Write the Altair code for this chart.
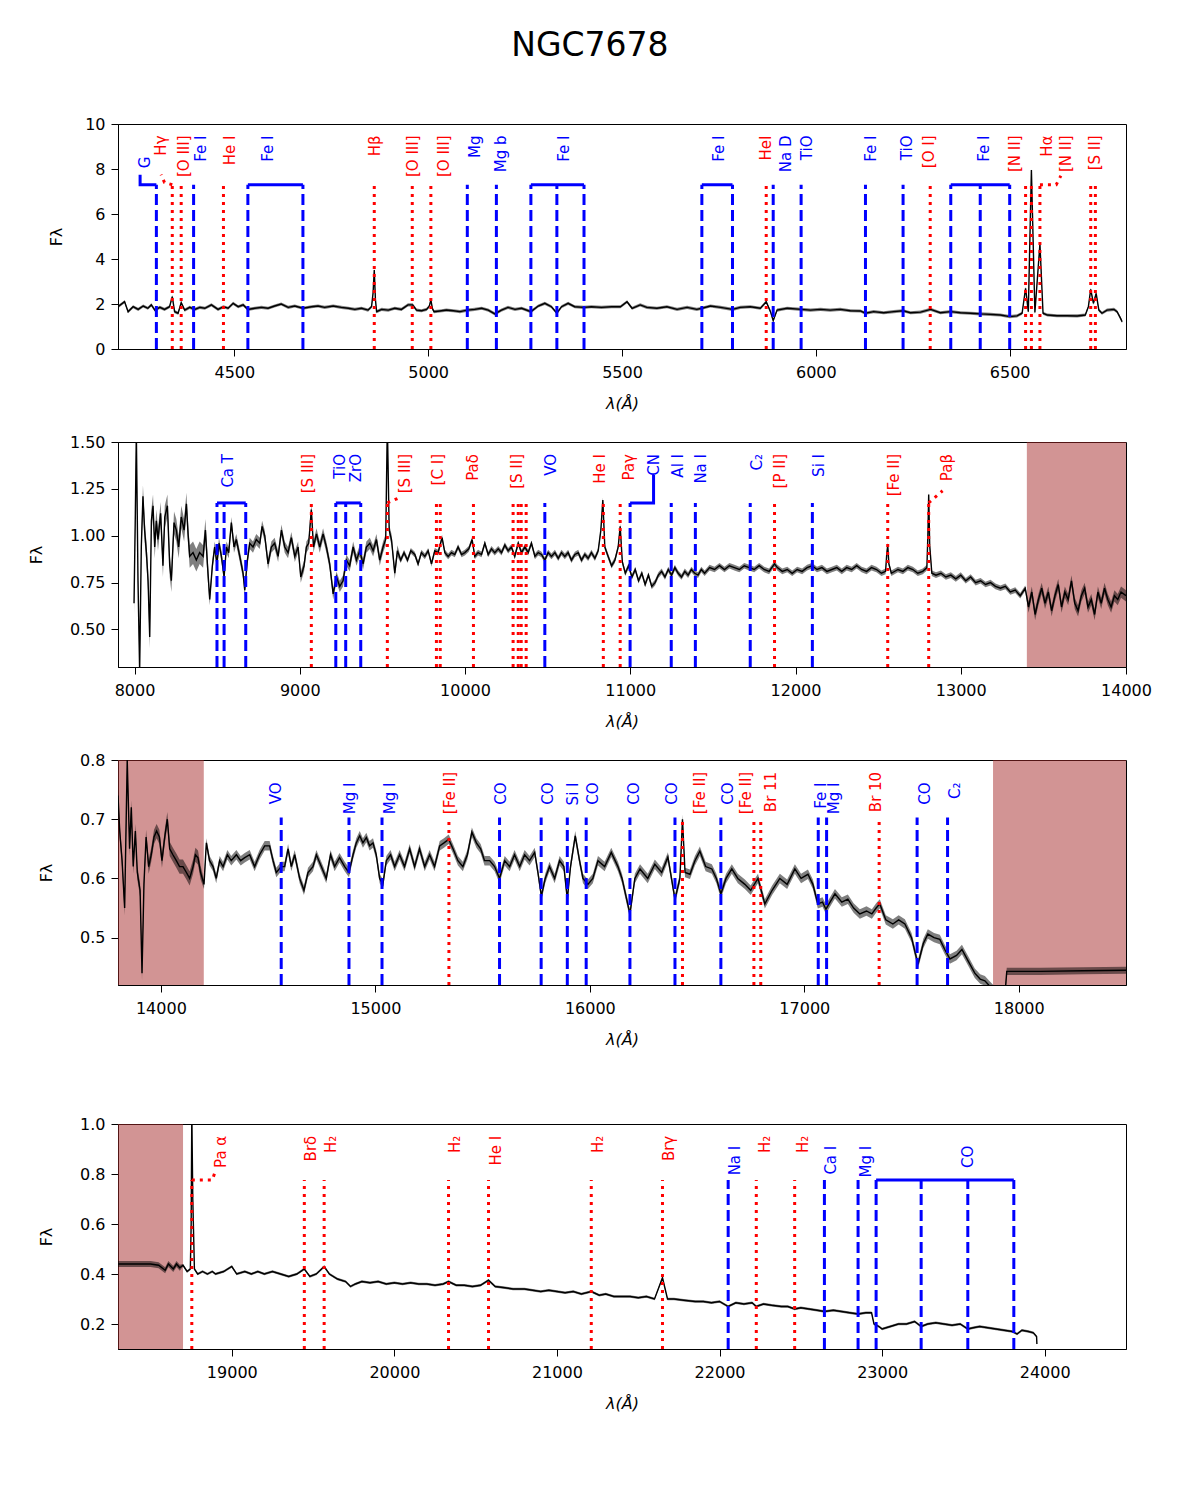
import altair as alt
import numpy as np
import pandas as pd

FONT = "DejaVu Sans"
BLUE = "#0000ff"
RED = "#ff0000"
SHADE = "#a52a2a"
PW, PH = 1008, 225

# ---------------- spectrum samples (wavelength [Å], flux) ----------------
p1_spec = [
    (4200, 1.88), (4217, 2.10), (4226, 1.66), (4239, 1.88), (4252, 1.76), (4265, 1.91), (4277, 1.81), (4286, 1.96), (4295, 1.73), (4308, 1.85),
    (4320, 1.76), (4333, 1.88), (4340, 2.33), (4346, 1.66), (4355, 1.59), (4363, 2.06), (4372, 1.73), (4385, 1.85), (4398, 1.76), (4411, 1.85),
    (4424, 1.81), (4441, 1.96), (4458, 1.76), (4472, 1.88), (4484, 1.81), (4497, 2.03), (4510, 1.88), (4523, 1.96), (4535, 1.76), (4553, 1.81),
    (4570, 1.85), (4587, 1.81), (4604, 1.91), (4621, 2.00), (4639, 1.85), (4656, 1.91), (4677, 1.81), (4699, 1.88), (4716, 1.91), (4733, 1.85),
    (4755, 1.91), (4776, 1.85), (4794, 1.81), (4811, 1.76), (4828, 1.81), (4845, 1.73), (4854, 1.88), (4858, 2.50), (4861, 3.51), (4864, 2.20),
    (4867, 1.66), (4880, 1.76), (4897, 1.73), (4914, 1.81), (4931, 1.76), (4948, 1.96), (4960, 1.96), (4970, 1.73), (4983, 1.70), (4996, 1.76),
    (5003, 1.90), (5007, 2.18), (5011, 1.80), (5015, 1.66), (5030, 1.69), (5047, 1.73), (5065, 1.70), (5082, 1.66), (5101, 1.73), (5120, 1.76),
    (5138, 1.81), (5155, 1.73), (5172, 1.56), (5189, 1.73), (5206, 1.85), (5224, 1.76), (5241, 1.81), (5265, 1.66), (5284, 1.91), (5301, 2.03),
    (5318, 1.88), (5332, 1.59), (5344, 1.88), (5361, 2.03), (5378, 1.88), (5402, 1.85), (5421, 1.88), (5447, 1.85), (5473, 1.88), (5496, 1.88),
    (5513, 2.10), (5526, 1.81), (5547, 1.96), (5564, 1.85), (5590, 1.81), (5616, 1.88), (5642, 1.76), (5668, 1.85), (5693, 1.76), (5706, 1.81),
    (5728, 1.91), (5754, 1.85), (5785, 1.76), (5805, 1.85), (5831, 1.88), (5857, 1.81), (5872, 2.10), (5883, 1.66), (5890, 1.26), (5900, 1.73),
    (5926, 1.81), (5962, 1.76), (5986, 1.73), (6012, 1.76), (6037, 1.73), (6063, 1.76), (6089, 1.70), (6115, 1.69), (6128, 1.59), (6149, 1.66),
    (6175, 1.61), (6201, 1.66), (6225, 1.70), (6244, 1.61), (6270, 1.64), (6296, 1.76), (6321, 1.61), (6348, 1.66), (6373, 1.61), (6399, 1.59),
    (6424, 1.56), (6450, 1.54), (6476, 1.51), (6500, 1.44), (6519, 1.47), (6532, 1.59), (6541, 2.70), (6548, 1.66), (6556, 7.95), (6565, 1.62),
    (6578, 4.67), (6586, 1.59), (6597, 1.51), (6622, 1.48), (6648, 1.48), (6674, 1.47), (6695, 1.51), (6703, 1.88), (6709, 2.65), (6716, 2.03),
    (6723, 2.47), (6730, 1.73), (6738, 1.59), (6751, 1.73), (6769, 1.76), (6777, 1.66), (6786, 1.36), (6790, 1.21),
]

p2_spec = [
    (7997, 0.64), (8005, 1.12), (8011, 1.55), (8021, 0.76), (8031, 0.28), (8041, 0.94), (8051, 1.21), (8061, 1.03), (8072, 0.91), (8082, 0.76),
    (8092, 0.46), (8102, 1.08), (8112, 1.16), (8122, 0.94), (8132, 1.08), (8142, 0.98), (8158, 1.12), (8172, 0.84), (8183, 1.10), (8199, 1.16),
    (8213, 0.84), (8223, 0.76), (8239, 1.07), (8253, 1.03), (8267, 0.94), (8283, 1.10), (8300, 1.03), (8314, 1.17), (8324, 1.01), (8334, 0.89),
    (8354, 0.91), (8374, 0.87), (8394, 0.91), (8415, 0.89), (8429, 1.03), (8441, 0.85), (8455, 0.66), (8471, 0.84), (8485, 0.94), (8499, 0.85),
    (8511, 0.96), (8526, 0.89), (8542, 0.78), (8556, 0.94), (8570, 0.91), (8586, 1.07), (8602, 0.94), (8616, 0.98), (8637, 0.89), (8657, 0.80),
    (8667, 0.71), (8683, 0.87), (8697, 0.96), (8717, 0.94), (8737, 0.98), (8758, 0.96), (8772, 1.05), (8788, 1.00), (8808, 0.85), (8828, 0.94),
    (8848, 0.96), (8869, 0.89), (8889, 1.03), (8909, 0.94), (8929, 0.91), (8949, 0.99), (8970, 0.89), (8990, 0.94), (9006, 0.78), (9026, 0.84),
    (9040, 0.94), (9054, 0.96), (9070, 1.14), (9083, 0.94), (9101, 1.01), (9121, 0.94), (9141, 1.01), (9161, 0.94), (9181, 0.85), (9202, 0.69),
    (9222, 0.78), (9242, 0.73), (9262, 0.76), (9282, 0.87), (9302, 0.84), (9323, 0.94), (9343, 0.87), (9363, 0.92), (9383, 0.85), (9403, 0.94),
    (9424, 0.96), (9444, 0.92), (9464, 0.98), (9484, 0.87), (9504, 0.94), (9520, 0.98), (9530, 1.60), (9541, 1.03), (9555, 0.98), (9575, 0.80),
    (9591, 0.92), (9611, 0.87), (9631, 0.91), (9652, 0.87), (9672, 0.92), (9696, 0.90), (9716, 0.85), (9736, 0.91), (9757, 0.89), (9777, 0.92),
    (9797, 0.85), (9817, 0.92), (9837, 0.91), (9861, 0.99), (9878, 0.91), (9898, 0.89), (9918, 0.91), (9938, 0.90), (9958, 0.94), (9979, 0.90),
    (9999, 0.91), (10023, 0.93), (10043, 0.98), (10059, 0.89), (10079, 0.91), (10100, 0.90), (10120, 0.96), (10140, 0.90), (10160, 0.93), (10180, 0.91),
    (10201, 0.93), (10221, 0.91), (10241, 0.95), (10261, 0.92), (10281, 0.94), (10301, 0.89), (10322, 0.96), (10342, 0.91), (10362, 0.94), (10382, 0.91),
    (10402, 0.96), (10423, 0.89), (10443, 0.91), (10463, 0.90), (10483, 0.87), (10503, 0.91), (10523, 0.89), (10544, 0.91), (10564, 0.88), (10584, 0.91),
    (10604, 0.89), (10624, 0.91), (10644, 0.87), (10665, 0.90), (10685, 0.91), (10705, 0.87), (10725, 0.90), (10745, 0.88), (10765, 0.91), (10786, 0.88),
    (10806, 0.92), (10822, 1.03), (10834, 1.19), (10846, 0.94), (10866, 0.89), (10887, 0.84), (10907, 0.87), (10927, 0.94), (10939, 1.05), (10952, 0.86),
    (10970, 0.80), (10990, 0.84), (11010, 0.78), (11030, 0.82), (11050, 0.76), (11070, 0.80), (11090, 0.74), (11110, 0.79), (11130, 0.73), (11150, 0.75),
    (11170, 0.79), (11190, 0.81), (11210, 0.78), (11230, 0.82), (11250, 0.79), (11270, 0.83), (11290, 0.80), (11310, 0.78), (11330, 0.81), (11350, 0.79),
    (11370, 0.82), (11390, 0.80), (11410, 0.79), (11430, 0.82), (11450, 0.80), (11480, 0.83), (11510, 0.82), (11540, 0.84), (11570, 0.82), (11600, 0.84),
    (11630, 0.83), (11660, 0.82), (11690, 0.84), (11720, 0.83), (11750, 0.82), (11780, 0.84), (11810, 0.82), (11840, 0.81), (11873, 0.85), (11890, 0.83),
    (11920, 0.81), (11950, 0.82), (11980, 0.80), (12010, 0.82), (12040, 0.81), (12070, 0.83), (12100, 0.84), (12130, 0.82), (12160, 0.83), (12190, 0.81),
    (12220, 0.82), (12250, 0.83), (12280, 0.81), (12310, 0.83), (12340, 0.82), (12370, 0.84), (12400, 0.82), (12430, 0.81), (12460, 0.83), (12490, 0.82),
    (12520, 0.80), (12545, 0.81), (12552, 0.90), (12558, 0.95), (12565, 0.85), (12580, 0.80), (12620, 0.82), (12650, 0.81), (12680, 0.83), (12710, 0.82),
    (12740, 0.80), (12770, 0.81), (12795, 0.83), (12801, 1.00), (12806, 1.22), (12812, 0.95), (12825, 0.80), (12850, 0.79), (12880, 0.80), (12910, 0.78),
    (12940, 0.79), (12970, 0.77), (13000, 0.79), (13030, 0.76), (13060, 0.78), (13090, 0.75), (13120, 0.76), (13150, 0.74), (13180, 0.75), (13210, 0.73),
    (13240, 0.72), (13270, 0.73), (13300, 0.70), (13330, 0.71), (13360, 0.68), (13390, 0.72), (13410, 0.62), (13430, 0.70), (13450, 0.58), (13470, 0.66),
    (13490, 0.72), (13510, 0.64), (13530, 0.70), (13550, 0.60), (13570, 0.68), (13590, 0.74), (13610, 0.62), (13630, 0.70), (13650, 0.66), (13670, 0.76),
    (13690, 0.64), (13710, 0.60), (13730, 0.68), (13750, 0.72), (13770, 0.62), (13790, 0.66), (13810, 0.58), (13830, 0.70), (13850, 0.64), (13870, 0.72),
    (13890, 0.66), (13910, 0.62), (13930, 0.68), (13950, 0.66), (13970, 0.70), (14000, 0.68),
]

p3_spec = [
    (13800, 0.74), (13808, 0.68), (13819, 0.63), (13831, 0.55), (13843, 0.80), (13854, 0.65), (13862, 0.72), (13871, 0.62), (13881, 0.68), (13890, 0.61),
    (13903, 0.58), (13912, 0.44), (13921, 0.59), (13931, 0.67), (13943, 0.62), (13955, 0.64), (13968, 0.67), (13980, 0.68), (13993, 0.67), (14005, 0.63),
    (14018, 0.67), (14030, 0.70), (14041, 0.65), (14056, 0.64), (14072, 0.63), (14087, 0.62), (14103, 0.62), (14119, 0.61), (14134, 0.60), (14150, 0.62),
    (14161, 0.64), (14173, 0.635), (14185, 0.61), (14201, 0.59), (14212, 0.66), (14227, 0.63), (14243, 0.62), (14258, 0.60), (14274, 0.63), (14290, 0.62),
    (14310, 0.64), (14328, 0.63), (14352, 0.64), (14372, 0.63), (14391, 0.635), (14414, 0.64), (14437, 0.62), (14460, 0.64), (14484, 0.655), (14507, 0.655),
    (14523, 0.63), (14538, 0.61), (14561, 0.62), (14577, 0.62), (14593, 0.65), (14608, 0.62), (14624, 0.64), (14647, 0.60), (14667, 0.58), (14686, 0.61),
    (14709, 0.62), (14725, 0.64), (14748, 0.62), (14771, 0.60), (14791, 0.64), (14810, 0.62), (14833, 0.635), (14857, 0.62), (14877, 0.61), (14896, 0.64),
    (14911, 0.66), (14927, 0.672), (14942, 0.66), (14958, 0.669), (14973, 0.655), (14989, 0.66), (15004, 0.64), (15020, 0.60), (15035, 0.59), (15051, 0.63),
    (15071, 0.64), (15090, 0.62), (15113, 0.64), (15136, 0.62), (15160, 0.65), (15183, 0.62), (15206, 0.65), (15230, 0.62), (15253, 0.64), (15276, 0.62),
    (15300, 0.655), (15320, 0.66), (15342, 0.666), (15362, 0.65), (15385, 0.63), (15408, 0.62), (15429, 0.64), (15450, 0.678), (15471, 0.66), (15491, 0.65),
    (15509, 0.63), (15533, 0.63), (15556, 0.62), (15579, 0.60), (15603, 0.63), (15626, 0.62), (15649, 0.64), (15673, 0.62), (15696, 0.64), (15719, 0.63),
    (15743, 0.644), (15758, 0.61), (15774, 0.57), (15792, 0.60), (15812, 0.62), (15836, 0.60), (15859, 0.63), (15879, 0.62), (15895, 0.565), (15910, 0.62),
    (15932, 0.672), (15952, 0.63), (15968, 0.60), (15991, 0.59), (16014, 0.60), (16038, 0.63), (16069, 0.62), (16100, 0.644), (16131, 0.62), (16150, 0.60),
    (16187, 0.54), (16210, 0.60), (16234, 0.616), (16270, 0.60), (16303, 0.624), (16335, 0.61), (16364, 0.636), (16397, 0.565), (16420, 0.60), (16432, 0.70),
    (16444, 0.61), (16467, 0.607), (16490, 0.63), (16513, 0.646), (16540, 0.62), (16569, 0.616), (16590, 0.60), (16611, 0.574), (16635, 0.60), (16662, 0.616),
    (16690, 0.60), (16723, 0.59), (16750, 0.58), (16784, 0.60), (16816, 0.557), (16850, 0.58), (16886, 0.60), (16920, 0.59), (16956, 0.616), (16985, 0.60),
    (17017, 0.607), (17040, 0.59), (17063, 0.557), (17085, 0.56), (17101, 0.548), (17120, 0.56), (17143, 0.574), (17175, 0.56), (17203, 0.565), (17230, 0.55),
    (17259, 0.54), (17290, 0.545), (17315, 0.54), (17335, 0.55), (17352, 0.557), (17380, 0.53), (17413, 0.523), (17440, 0.53), (17469, 0.523), (17500, 0.50),
    (17530, 0.455), (17555, 0.49), (17576, 0.506), (17605, 0.50), (17632, 0.497), (17655, 0.48), (17679, 0.464), (17710, 0.47), (17735, 0.48), (17765, 0.46),
    (17795, 0.44), (17820, 0.43), (17842, 0.427), (17860, 0.42), (17879, 0.413), (17910, 0.405), (17935, 0.40), (17944, 0.443), (18100, 0.443), (18300, 0.444),
    (18500, 0.445),
]

p4_spec = [
    (18300, 0.440), (18350, 0.440), (18400, 0.440), (18450, 0.440), (18500, 0.440), (18550, 0.435), (18590, 0.415), (18610, 0.440), (18640, 0.420), (18660, 0.440),
    (18680, 0.425), (18700, 0.435), (18725, 0.410), (18745, 0.420), (18750, 0.600), (18754, 1.050), (18760, 0.700), (18770, 0.420), (18790, 0.400), (18820, 0.410),
    (18850, 0.400), (18880, 0.410), (18900, 0.400), (18950, 0.410), (19000, 0.430), (19030, 0.400), (19080, 0.410), (19120, 0.400), (19160, 0.410), (19200, 0.400),
    (19250, 0.410), (19300, 0.400), (19350, 0.390), (19400, 0.400), (19446, 0.420), (19480, 0.390), (19520, 0.400), (19568, 0.430), (19600, 0.400), (19650, 0.380),
    (19700, 0.370), (19730, 0.350), (19760, 0.360), (19800, 0.370), (19850, 0.365), (19900, 0.370), (19950, 0.360), (20000, 0.365), (20050, 0.360), (20100, 0.365),
    (20150, 0.360), (20200, 0.360), (20250, 0.355), (20300, 0.360), (20333, 0.370), (20380, 0.355), (20430, 0.355), (20480, 0.350), (20530, 0.355), (20579, 0.375),
    (20620, 0.350), (20680, 0.345), (20730, 0.340), (20800, 0.340), (20850, 0.335), (20900, 0.330), (20950, 0.335), (21000, 0.330), (21050, 0.325), (21100, 0.330),
    (21150, 0.320), (21211, 0.330), (21260, 0.315), (21300, 0.320), (21350, 0.310), (21400, 0.310), (21450, 0.310), (21500, 0.305), (21550, 0.310), (21600, 0.300),
    (21649, 0.385), (21680, 0.300), (21720, 0.300), (21780, 0.295), (21850, 0.290), (21900, 0.290), (21950, 0.285), (22000, 0.290), (22053, 0.270), (22100, 0.285),
    (22150, 0.280), (22200, 0.285), (22226, 0.270), (22270, 0.280), (22320, 0.275), (22380, 0.270), (22420, 0.270), (22462, 0.260), (22500, 0.265), (22550, 0.260),
    (22600, 0.255), (22645, 0.250), (22700, 0.255), (22750, 0.250), (22800, 0.245), (22852, 0.240), (22900, 0.245), (22935, 0.245), (22950, 0.200), (22980, 0.190),
    (23000, 0.180), (23050, 0.190), (23100, 0.200), (23150, 0.200), (23200, 0.210), (23240, 0.190), (23280, 0.200), (23330, 0.205), (23380, 0.200), (23430, 0.195),
    (23480, 0.200), (23527, 0.180), (23560, 0.185), (23600, 0.190), (23650, 0.185), (23700, 0.180), (23750, 0.175), (23800, 0.170), (23830, 0.160), (23860, 0.175),
    (23900, 0.170), (23930, 0.165), (23950, 0.150), (23952, 0.120),
]

# error half-widths: one level per wavelength interval (breakpoints in Å)
p1_err_breaks, p1_err_levels = [], [0.07]
p2_err_breaks, p2_err_levels = [8450, 9600, 13400], [0.06, 0.03, 0.015, 0.03]
p3_err_breaks, p3_err_levels = [14200, 17900], [0.012, 0.008, 0.006]
p4_err_breaks, p4_err_levels = [18700], [0.012, 0.005]

# ---------------- line identifications: (wavelength, kind, bracket group) ----------------
p1_lines = [
    (4299, "abs", None), (4395, "abs", None), (4535, "abs", "a"), (4677, "abs", "a"), (5101, "abs", None),
    (5176, "abs", None), (5265, "abs", "b"), (5332, "abs", "b"), (5402, "abs", "b"), (5706, "abs", "c"),
    (5785, "abs", "c"), (5890, "abs", None), (5962, "abs", None), (6128, "abs", None), (6225, "abs", None),
    (6348, "abs", "d"), (6424, "abs", "d"), (6500, "abs", "d"),
    (4340, "em", None), (4363, "em", None), (4472, "em", None), (4861, "em", None), (4959, "em", None),
    (5007, "em", None), (5872, "em", None), (6295, "em", None), (6541, "em", None), (6556, "em", None),
    (6578, "em", None), (6709, "em", None), (6721, "em", None),
]
p1_labels = [
    ("G", "abs", 4269), ("Hγ", "em", 4312), ("[O III]", "em", 4370), ("Fe I", "abs", 4413), ("He I", "em", 4488),
    ("Fe I", "abs", 4588), ("Hβ", "em", 4862), ("[O III]", "em", 4960), ("[O III]", "em", 5040), ("Mg", "abs", 5122),
    ("Mg b", "abs", 5189), ("Fe I", "abs", 5351), ("Fe I", "abs", 5749), ("HeI", "em", 5871), ("Na D", "abs", 5923),
    ("TiO", "abs", 5977), ("Fe I", "abs", 6143), ("TiO", "abs", 6235), ("[O I]", "em", 6293), ("Fe I", "abs", 6433),
    ("[N II]", "em", 6513), ("Hα", "em", 6595), ("[N II]", "em", 6646), ("[S II]", "em", 6721),
]
p1_leaders = [
    ("abs", [(4257, 7.75), (4257, 7.3), (4299, 7.3)]),
    ("em", [(4340, 7.3), (4320, 7.4), (4311, 7.75)]),
    ("em", [(6578, 7.3), (6620, 7.3), (6632, 7.7)]),
]

p2_lines = [
    (8499, "abs", "a"), (8542, "abs", "a"), (8673, "abs", "a"), (9218, "abs", "b"), (9278, "abs", "b"),
    (9369, "abs", "b"), (10483, "abs", None), (10999, "abs", None), (11248, "abs", None), (11394, "abs", None),
    (11726, "abs", None), (12102, "abs", None),
    (9070, "em", None), (9530, "em", None), (9827, "em", None), (9850, "em", None), (10051, "em", None),
    (10291, "em", None), (10322, "em", None), (10340, "em", None), (10370, "em", None), (10837, "em", None),
    (10939, "em", None), (11873, "em", None), (12558, "em", None), (12806, "em", None),
]
p2_labels = [
    ("Ca T", "abs", 8566), ("[S III]", "em", 9050), ("TiO", "abs", 9242), ("ZrO", "abs", 9343), ("[S III]", "em", 9639),
    ("[C I]", "em", 9836), ("Paδ", "em", 10049), ("[S II]", "em", 10316), ("VO", "abs", 10523), ("He I", "em", 10816),
    ("Paγ", "em", 10990), ("CN", "abs", 11141), ("Al I", "abs", 11286), ("Na I", "abs", 11428), ("C₂", "abs", 11767),
    ("[P II]", "em", 11908), ("Si I", "abs", 12140), ("[Fe II]", "em", 12594), ("Paβ", "em", 12918),
]
p2_leaders = [
    ("abs", [(10999, 1.175), (11141, 1.175), (11141, 1.324)]),
    ("em", [(9530, 1.175), (9595, 1.20)]),
    ("em", [(12806, 1.175), (12890, 1.24)]),
]

p3_lines = [
    (14561, "abs", None), (14877, "abs", None), (15031, "abs", None), (15579, "abs", None), (15773, "abs", None),
    (15895, "abs", None), (15983, "abs", None), (16187, "abs", None), (16397, "abs", None), (16611, "abs", None),
    (17065, "abs", None), (17104, "abs", None), (17526, "abs", None), (17668, "abs", None),
    (15343, "em", None), (16432, "em", None), (16765, "em", None), (16797, "em", None), (17349, "em", None),
]
p3_labels = [
    ("VO", "abs", 14538), ("Mg I", "abs", 14883), ("Mg I", "abs", 15069), ("[Fe II]", "em", 15346), ("CO", "abs", 15584),
    ("CO", "abs", 15805), ("Si I", "abs", 15921), ("CO", "abs", 16014), ("CO", "abs", 16206), ("CO", "abs", 16381),
    ("[Fe II]", "em", 16512), ("CO", "abs", 16645), ("[Fe II]", "em", 16729), ("Br 11", "em", 16847), ("Fe I", "abs", 17076),
    ("Mg I", "abs", 17138), ("Br 10", "em", 17335), ("CO", "abs", 17562), ("C₂", "abs", 17702),
]
p3_leaders = []

p4_lines = [
    (22053, "abs", None), (22645, "abs", None), (22852, "abs", None), (22963, "abs", "a"), (23240, "abs", "a"),
    (23527, "abs", "a"), (23810, "abs", "a"),
    (18754, "em", None), (19446, "em", None), (19568, "em", None), (20333, "em", None), (20579, "em", None),
    (21211, "em", None), (21649, "em", None), (22226, "em", None), (22462, "em", None),
]
p4_labels = [
    ("Pa α", "em", 18932), ("Brδ", "em", 19488), ("H₂", "em", 19610), ("H₂", "em", 20374), ("He I", "em", 20626),
    ("H₂", "em", 21252), ("Brγ", "em", 21689), ("Na I", "abs", 22098), ("H₂", "em", 22277), ("H₂", "em", 22512),
    ("Ca I", "abs", 22688), ("Mg I", "abs", 22903), ("CO", "abs", 23528),
]
p4_leaders = [
    ("em", [(18754, 0.776), (18880, 0.776), (18898, 0.81)]),
]

# telluric / low-S/N windows
p2_shades = [(13400, 14000)]
p3_shades = [(13800, 14200), (17880, 18500)]
p4_shades = [(18300, 18700)]


def spectrum_frame(spec, breaks, levels):
    w = np.array([s[0] for s in spec], dtype=float)
    f = np.array([s[1] for s in spec], dtype=float)
    e = np.asarray(levels, dtype=float)[np.searchsorted(breaks, w, side="right")]
    return pd.DataFrame({"wave": w, "flux": f, "lo": f - e, "hi": f + e})


def panel(spec, lines, labels, leaders, shades, xdom, ydom, xticks, yticks, yfmt,
          marker_top, label_top, label_top_override=None, ytitle_pad=25):
    xs = alt.Scale(domain=xdom, nice=False, zero=False)
    ys = alt.Scale(domain=ydom, nice=False, zero=False)
    common = dict(grid=False, labelFlush=False, labelOverlap=False, tickSize=7,
                  tickColor="black", domainColor="black", labelColor="black",
                  titleColor="black", labelFont=FONT, titleFont=FONT,
                  labelFontSize=16, titleFontSize=16, titleFontWeight="normal")
    xax = alt.Axis(values=xticks, format="d", title="λ(Å)", titleFontStyle="italic",
                   labelPadding=8, titlePadding=15, **common)
    yax = alt.Axis(values=yticks, format=yfmt, title="Fλ", labelPadding=6,
                   titlePadding=ytitle_pad, **common)

    def X(f):
        return alt.X(f, type="quantitative", scale=xs, axis=xax)

    def Y(f):
        return alt.Y(f, type="quantitative", scale=ys, axis=yax)

    layers = []
    if shades:
        sd = pd.DataFrame({"a": [s[0] for s in shades], "b": [s[1] for s in shades]})
        sd["lo"], sd["hi"] = ydom[0], ydom[1]
        layers.append(alt.Chart(sd).mark_rect(color=SHADE, opacity=0.5)
                      .encode(x=X("a"), x2="b", y=Y("lo"), y2="hi"))

    layers.append(alt.Chart(spec).mark_area(color="black", opacity=0.5, clip=True)
                  .encode(x=X("wave"), y=Y("lo"), y2="hi"))
    layers.append(alt.Chart(spec).mark_line(color="black", strokeWidth=1.4, clip=True)
                  .encode(x=X("wave"), y=Y("flux")))

    ld = pd.DataFrame(lines, columns=["wave", "kind", "group"])
    ld["top"] = marker_top
    ld["bottom"] = ydom[0]
    layers.append(alt.Chart(ld[ld.kind == "abs"])
                  .mark_rule(color=BLUE, strokeWidth=3, strokeDash=[11, 5])
                  .encode(x=X("wave"), y=Y("bottom"), y2="top"))
    layers.append(alt.Chart(ld[ld.kind == "em"])
                  .mark_rule(color=RED, strokeWidth=3, strokeDash=[3, 5])
                  .encode(x=X("wave"), y=Y("bottom"), y2="top"))

    grouped = ld.dropna(subset=["group"])
    if len(grouped):
        g = grouped.groupby("group").wave.agg(["min", "max"]).reset_index()
        g["y"] = marker_top
        layers.append(alt.Chart(g).mark_rule(color=BLUE, strokeWidth=3)
                      .encode(x=X("min"), x2="max", y=Y("y")))

    rows = []
    for i, (kind, pts) in enumerate(leaders):
        for j, (px, py) in enumerate(pts):
            rows.append({"id": i, "seq": j, "kind": kind, "x": px, "y": py})
    if rows:
        lead = pd.DataFrame(rows)
        la = lead[lead.kind == "abs"]
        le = lead[lead.kind == "em"]
        if len(la):
            layers.append(alt.Chart(la).mark_line(color=BLUE, strokeWidth=3)
                          .encode(x=X("x"), y=Y("y"), detail="id:N", order="seq:Q"))
        if len(le):
            layers.append(alt.Chart(le).mark_line(color=RED, strokeWidth=3, strokeDash=[3, 5])
                          .encode(x=X("x"), y=Y("y"), detail="id:N", order="seq:Q"))

    td = pd.DataFrame(labels, columns=["label", "kind", "at"])
    override = label_top_override or {}
    td["top"] = [override.get(t, label_top[k]) for t, k in zip(td.label, td.kind)]
    layers.append(alt.Chart(td).mark_text(angle=270, align="right", baseline="middle",
                                          font=FONT, fontSize=15)
                  .encode(x=X("at"), y=Y("top"), text="label:N",
                          color=alt.Color("kind:N", scale=alt.Scale(domain=["abs", "em"], range=[BLUE, RED]),
                                          legend=None)))
    return alt.layer(*layers).properties(width=PW, height=PH)


c1 = panel(spectrum_frame(p1_spec, p1_err_breaks, p1_err_levels), p1_lines, p1_labels, p1_leaders, [],
           [4200, 6800], [0, 10], [4500, 5000, 5500, 6000, 6500], [0, 2, 4, 6, 8, 10], "d",
           7.3, {"abs": 9.49, "em": 9.49}, {"G": 8.55}, ytitle_pad=20)
c2 = panel(spectrum_frame(p2_spec, p2_err_breaks, p2_err_levels), p2_lines, p2_labels, p2_leaders, p2_shades,
           [7900, 14000], [0.3, 1.5], [8000, 9000, 10000, 11000, 12000, 13000, 14000],
           [0.5, 0.75, 1.0, 1.25, 1.5], ".2f", 1.175, {"abs": 1.436, "em": 1.436})
c3 = panel(spectrum_frame(p3_spec, p3_err_breaks, p3_err_levels), p3_lines, p3_labels, p3_leaders, p3_shades,
           [13800, 18500], [0.42, 0.8], [14000, 15000, 16000, 17000, 18000],
           [0.5, 0.6, 0.7, 0.8], ".1f", 0.703, {"abs": 0.762, "em": 0.780})
c4 = panel(spectrum_frame(p4_spec, p4_err_breaks, p4_err_levels), p4_lines, p4_labels, p4_leaders, p4_shades,
           [18300, 24500], [0.1, 1.0], [19000, 20000, 21000, 22000, 23000, 24000],
           [0.2, 0.4, 0.6, 0.8, 1.0], ".1f", 0.776, {"abs": 0.913, "em": 0.953})
c4 = c4.properties(title=alt.TitleParams(" ", fontSize=2, offset=44))

chart = (
    alt.vconcat(c1, c2, c3, c4, spacing=21)
    .properties(
        title=alt.TitleParams("NGC7678", font=FONT, fontSize=33, fontWeight="normal",
                              color="black", anchor="middle", offset=53),
        padding={"left": 27, "top": 29, "right": 10, "bottom": 10},
    )
    .configure_view(stroke="black", strokeWidth=1)
)

chart.save("out.html", embed_options={"renderer": "svg", "actions": False})
